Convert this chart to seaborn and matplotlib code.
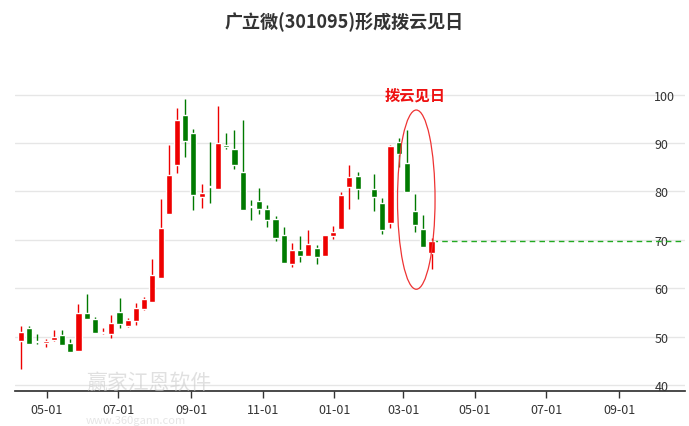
import pandas as pd
import numpy as np
import matplotlib
matplotlib.use("Agg")
import matplotlib.pyplot as plt
import seaborn as sns
from matplotlib.patches import Ellipse

sns.set_theme(style="white")
plt.rcParams['font.family'] = ['Noto Sans CJK SC', 'DejaVu Sans']

# weekly candles (Spring-festival week skipped)
dates = [d for d in pd.date_range("2022-04-09", periods=51, freq="7D")
         if d != pd.Timestamp("2023-01-28")]
opens = [49.2, 51.9, 49.1, 48.8, 49.3, 50.3, 48.8, 47.1, 54.8, 53.6, 50.7, 50.5, 55.1,
         52.2, 53.3, 55.8, 57.2, 62.2, 75.4, 85.5, 95.7, 92.0, 78.8, 81.1, 80.4, 89.6,
         88.8, 84.0, 76.9, 78.0, 76.4, 74.4, 71.1, 65.1, 68.0, 66.6, 68.3, 66.6, 70.7,
         72.3, 80.9, 83.1, 80.4, 77.6, 73.5, 90.2, 85.9, 76.0, 72.2, 67.2]
closes = [51.0, 48.5, 48.9, 49.2, 49.9, 48.3, 46.9, 54.8, 53.6, 50.8, 51.0, 52.9, 52.6,
          53.4, 56.0, 57.8, 62.8, 72.5, 83.4, 94.8, 90.5, 79.2, 79.7, 80.9, 90.0, 89.1,
          85.4, 76.1, 76.8, 76.4, 74.0, 70.4, 65.2, 68.0, 66.6, 69.1, 66.5, 71.1, 71.6,
          79.3, 83.0, 80.4, 78.8, 72.0, 89.3, 87.8, 79.9, 73.0, 68.5, 69.8]
highs = [52.3, 52.2, 50.5, 49.6, 51.4, 51.4, 49.5, 56.8, 58.8, 54.1, 51.8, 54.5, 57.9,
         53.8, 56.9, 58.1, 66.0, 78.5, 89.5, 97.3, 99.1, 92.9, 81.6, 90.2, 97.7, 92.0,
         92.6, 94.8, 78.2, 80.8, 77.1, 74.9, 72.7, 69.3, 70.7, 72.0, 68.9, 71.1, 72.8,
         79.9, 85.4, 84.0, 83.6, 78.7, 89.5, 91.1, 92.7, 79.4, 75.1, 70.3]
lows = [43.3, 48.5, 48.6, 47.8, 49.2, 48.3, 46.9, 47.1, 53.6, 50.8, 50.6, 49.7, 51.9,
        52.1, 52.4, 55.6, 57.2, 62.2, 75.4, 83.7, 87.2, 76.1, 76.6, 77.6, 80.4, 88.8,
        84.7, 76.1, 74.0, 75.4, 72.7, 69.8, 65.2, 64.3, 65.5, 66.6, 65.1, 66.6, 70.2,
        72.3, 76.3, 78.5, 75.9, 71.3, 72.5, 85.0, 79.9, 71.6, 68.5, 63.9]
tick_dates = ["2022-05-01", "2022-07-01", "2022-09-01", "2022-11-01", "2023-01-01",
              "2023-03-01", "2023-05-01", "2023-07-01", "2023-09-01"]
y_ticks = [40, 50, 60, 70, 80, 90, 100]

df = pd.DataFrame({"date": dates, "open": opens, "close": closes, "high": highs, "low": lows})
df["x"] = matplotlib.dates.date2num(df["date"])
df["color"] = np.where(df["close"] >= df["open"], "#ee0000", "#007a00")

fig = plt.figure(figsize=(6.89, 4.27), dpi=100)
ax = fig.add_axes([0.022, 0.082, 0.972, 0.835])

for _, r in df.iterrows():
    ax.vlines(r.x, r.low, r.high, color=r.color, lw=1, zorder=2)
    bottom = min(r.open, r.close)
    h = max(abs(r.close - r.open), 0.25)
    ax.bar(r.x, h, bottom=bottom, width=5.2, color=r.color, zorder=3)

last = df.iloc[-1]
xmin = matplotlib.dates.date2num(pd.Timestamp("2022-04-04"))
xmax = matplotlib.dates.date2num(pd.Timestamp("2023-10-27"))
ax.hlines(last.close, last.x, xmax, colors="#22aa22", linestyles=(0, (4, 3)), lw=1, zorder=2)

cx = matplotlib.dates.date2num(pd.Timestamp("2023-03-12"))
ax.add_patch(Ellipse((cx, 78.3), 32, 37, fill=False, ec="#ee3333", lw=0.9, zorder=4))
ax.text(cx - 1, 98.3, "拨云见日", color="#ee1111", fontsize=11, fontweight="bold",
        ha="center", va="bottom")

ax.set_xlim(xmin, xmax)
ax.set_ylim(38.8, 112.4)
ax.set_xticks(matplotlib.dates.date2num(pd.to_datetime(tick_dates)))
ax.set_xticklabels([t[5:] for t in tick_dates], fontsize=9, color="#333333")
ax.set_yticks(y_ticks)
ax.set_yticklabels([str(v) for v in y_ticks], fontsize=9, color="#333333")
ax.yaxis.tick_right()
ax.tick_params(axis="y", length=0, pad=-22)
ax.tick_params(axis="x", length=5, width=1, color="#333333", direction="out", bottom=True)
ax.grid(axis="y", color="#e6e6e6", lw=1)
for s in ["top", "left", "right"]:
    ax.spines[s].set_visible(False)
ax.spines["bottom"].set_color("#333333")

fig.text(0.5, 0.948, "广立微(301095)形成拨云见日", ha="center", va="center",
         fontsize=13, fontweight="bold", color="#333333")
fig.text(0.125, 0.09, "赢家江恩软件", fontsize=15, color="#cccccc", alpha=0.6, ha="left")
fig.text(0.125, 0.008, "www.360gann.com", fontsize=8, color="#cccccc", alpha=0.5, ha="left")

fig.savefig("out.png", dpi=100)
